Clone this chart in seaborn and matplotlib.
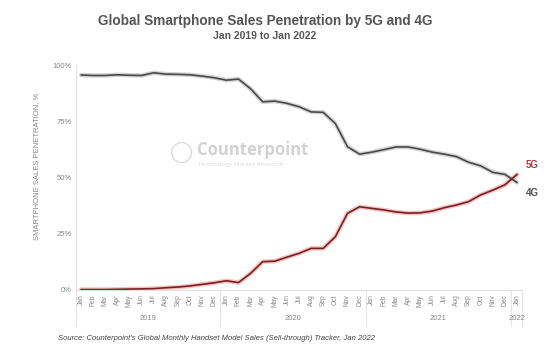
import matplotlib
matplotlib.use("Agg")
import matplotlib.pyplot as plt
import seaborn as sns
import pandas as pd

# Data (monthly, Jan 2019 .. Jan 2022)
months = ["Jan", "Feb", "Mar", "Apr", "May", "Jun", "Jul", "Aug", "Sep", "Oct", "Nov", "Dec"] * 3 + ["Jan"]
years = ["2019", "2020", "2021", "2022"]

share_4g = [95.6, 95.4, 95.4, 95.7, 95.5, 95.4, 96.6, 96.0, 95.9, 95.7, 95.1, 94.4,
            93.3, 93.8, 89.5, 83.7, 84.0, 83.0, 81.5, 79.2, 79.0, 74.0, 63.7, 60.4,
            61.3, 62.4, 63.6, 63.6, 62.6, 61.3, 60.4, 59.3, 56.8, 55.2, 52.3, 51.4,
            47.8]
share_5g = [0.2, 0.2, 0.2, 0.3, 0.4, 0.5, 0.6, 1.0, 1.3, 1.8, 2.5, 3.2,
            4.1, 3.3, 7.4, 12.6, 12.8, 14.6, 16.3, 18.5, 18.5, 23.7, 34.1, 37.0,
            36.3, 35.6, 34.7, 34.2, 34.3, 35.1, 36.6, 37.8, 39.3, 42.3, 44.4, 46.8,
            51.4]

df = pd.DataFrame({
    "idx": list(range(len(months))) * 2,
    "share": share_4g + share_5g,
    "tech": ["4G"] * len(months) + ["5G"] * len(months),
})

sns.set_style("white")
plt.rcParams["font.family"] = ["Liberation Sans", "DejaVu Sans"]

fig = plt.figure(figsize=(5.6, 3.53), dpi=100)
ax = fig.add_axes([0.136, 0.1785, 0.796, 0.637])

# soft glow under the lines
sns.lineplot(data=df[df.tech == "4G"], x="idx", y="share", color="#b8b8b8", linewidth=3.2,
             alpha=0.6, ax=ax, legend=False)
sns.lineplot(data=df[df.tech == "5G"], x="idx", y="share", color="#f0a8a8", linewidth=3.2,
             alpha=0.7, ax=ax, legend=False)
sns.lineplot(data=df, x="idx", y="share", hue="tech", palette={"4G": "#4a4a4a", "5G": "#7a1f1f"},
             linewidth=1.2, ax=ax, legend=False)

ax.set_xlim(-0.4, len(months) - 0.6)
ax.set_ylim(0, 100)
ax.set_yticks([0, 25, 50, 75, 100])
ax.set_yticklabels([f"{v}%" for v in [0, 25, 50, 75, 100]], fontsize=5.5, color="#888888")
ax.set_xticks(range(len(months)))
ax.set_xticklabels(months, rotation=90, fontsize=4.8, color="#888888")
ax.tick_params(axis="both", length=0, pad=3)
ax.set_xlabel("")
ax.set_ylabel("SMARTPHONE SALES PENETRATION, %", fontsize=5.5, color="#888888", labelpad=10)
ax.yaxis.set_label_coords(-0.081, 0.55)

for s in ["top", "right"]:
    ax.spines[s].set_visible(False)
for s in ["left", "bottom"]:
    ax.spines[s].set_color("#e0e0e0")
    ax.spines[s].set_linewidth(0.8)

# year separators and year labels
trans = ax.get_xaxis_transform()
for b in [-0.4, 11.5, 23.5, 35.5, len(months) - 0.6]:
    ax.plot([b, b], [0, -0.16], transform=trans, color="#e6e6e6", lw=0.8, clip_on=False)
for i, y in enumerate(years):
    xc = 5.5 + 12 * i if i < 3 else 36
    ax.text(xc, -0.125, y, transform=trans, ha="center", va="center", fontsize=5.5, color="#888888")

# end labels
ax.text(len(months) - 0.3, share_5g[-1] + 4, "5G", fontsize=7, fontweight="bold", color="#b03a3a",
        ha="left", va="center")
ax.text(len(months) - 0.3, share_4g[-1] - 4.5, "4G", fontsize=7, fontweight="bold", color="#505050",
        ha="left", va="center")

# watermark
fig.text(0.325, 0.568, "\u25EF", fontsize=15, color="#d8d8d8", ha="center", va="center")
fig.text(0.352, 0.575, "Counterpoint", fontsize=12, fontweight="bold", color="#d2d2d2",
         ha="left", va="center", family=["Open Sans", "DejaVu Sans"])
fig.text(0.354, 0.535, "Technology Market Research", fontsize=4.6, color="#dadada",
         ha="left", va="center", family=["Open Sans", "DejaVu Sans"])

fig.text(0.473, 0.94, "Global Smartphone Sales Penetration by 5G and 4G", fontsize=9.8,
         fontweight="bold", color="#555555", ha="center", va="center")
fig.text(0.473, 0.898, "Jan 2019 to Jan 2022", fontsize=7.5, fontweight="bold", color="#555555",
         ha="center", va="center")
fig.text(0.104, 0.042, "Source: Counterpoint's Global Monthly Handset Model Sales (Sell-through) Tracker, Jan 2022",
         fontsize=5.5, style="italic", color="#444444", ha="left", va="center")

fig.savefig("out.png", dpi=100)
